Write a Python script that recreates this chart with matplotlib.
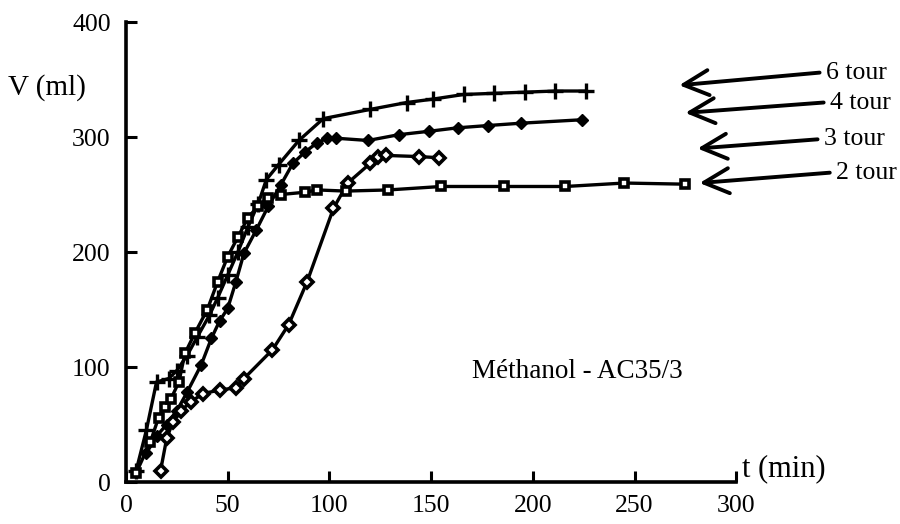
import matplotlib
matplotlib.use('Agg')
import matplotlib.pyplot as plt

plt.rcParams['font.family'] = ['Liberation Serif', 'DejaVu Serif']

# 6 tour (+)
t6 = [5, 10, 15, 21, 25, 30, 35, 41, 45, 50, 55, 60, 65, 69, 75, 85, 97, 120, 138, 151, 166, 181, 196, 211, 226]
v6 = [10, 45, 87, 90, 97, 110, 126, 145, 160, 180, 200, 222, 242, 263, 276, 297, 316, 324, 330, 333, 337, 338, 339, 340, 340]
# 4 tour (filled diamonds)
t4 = [10, 15, 20, 25, 30, 37, 42, 46, 50, 54, 58, 64, 70, 76, 82, 88, 94, 99, 103, 119, 134, 149, 163, 178, 194, 224]
v4 = [25, 40, 50, 62, 78, 102, 125, 140, 151, 174, 199, 219, 240, 258, 277, 287, 295, 299, 299, 297, 302, 305, 308, 310, 312, 315]
# 3 tour (open diamonds)
t3 = [17, 20, 23, 27, 32, 38, 46, 54, 58, 72, 80, 89, 102, 109, 120, 124, 128, 144, 154]
v3 = [10, 38, 52, 62, 70, 77, 80, 82, 90, 115, 137, 174, 238, 260, 277, 283, 284, 283, 282]
# 2 tour (squares)
t2 = [5, 12, 16, 19, 22, 26, 29, 34, 40, 45, 50, 55, 60, 65, 70, 76, 88, 94, 108, 129, 155, 186, 216, 245, 275]
v2 = [8, 35, 56, 65, 72, 87, 112, 130, 150, 174, 196, 213, 230, 240, 247, 250, 252, 254, 253, 254, 257, 257, 257, 260, 259]

labels = ['6 tour', '4 tour', '3 tour', '2 tour']
# arrow head / tail (data units)
head_t = [272, 275, 281, 282]
head_v = [345, 321, 290, 260]
tail_t = [341, 343, 340, 346]
tail_v = [356, 330, 298, 269]

fig = plt.figure(figsize=(9, 5.24), dpi=100)
ax = fig.add_axes([0.14, 0.08, 0.678, 0.878])

lw = 2.4
ax.plot(t6, v6, color='black', lw=lw, marker='+', ms=12, mew=2.4)
ax.plot(t4, v4, color='black', lw=lw, marker='D', ms=6.5, mfc='black', mec='black')
ax.plot(t3, v3, color='black', lw=lw, marker='D', ms=6, mfc='white', mec='black', mew=2.6)
ax.plot(t2, v2, color='black', lw=lw, marker='s', ms=6, mfc='white', mec='black', mew=2.6)

ax.set_xlim(0, 300)
ax.set_ylim(0, 400)
ax.set_xticks([0, 50, 100, 150, 200, 250, 300])
ax.set_yticks([0, 100, 200, 300, 400])
for s in ['top', 'right']:
    ax.spines[s].set_visible(False)
for s in ['left', 'bottom']:
    ax.spines[s].set_linewidth(2.6)
ax.tick_params(direction='in', length=8, width=2.2, labelsize=18.5)
ax.tick_params(axis='x', pad=9)
ax.tick_params(axis='y', pad=11)

ax.text(-58, 343, 'V (ml)', fontsize=21, ha='left', va='center')
ax.text(303, 12, 't (min)', fontsize=22, ha='left', va='center', clip_on=False)
ax.text(170, 96, 'Méthanol - AC35/3', fontsize=19.5, ha='left', va='center')

for i in range(len(labels)):
    ax.annotate('', xy=(head_t[i], head_v[i]), xytext=(tail_t[i], tail_v[i]),
                arrowprops=dict(arrowstyle='->,head_length=0.9,head_width=0.45',
                                lw=2.8, color='black', mutation_scale=20,
                                shrinkA=0, shrinkB=0),
                annotation_clip=False)
    ax.text(tail_t[i] + 3, tail_v[i], labels[i], fontsize=18.5, ha='left', va='center')

fig.savefig('out.png', dpi=100)
